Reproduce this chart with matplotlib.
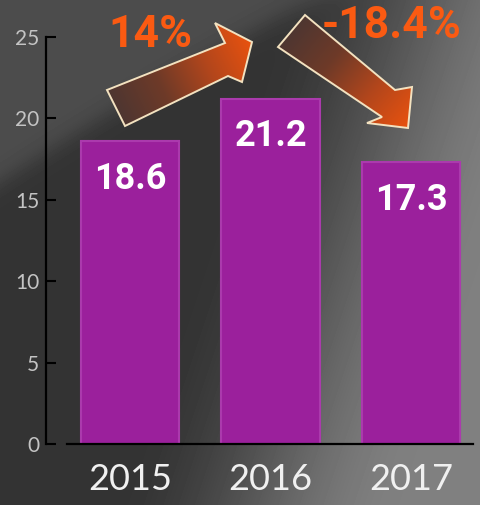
import numpy as np
import matplotlib.pyplot as plt
from matplotlib.patches import Polygon
from matplotlib.colors import LinearSegmentedColormap

years = ["2015", "2016", "2017"]
values = [18.6, 21.2, 17.3]
changes = ["14%", "-18.4%"]
yticks = [0, 5, 10, 15, 20, 25]

W, H = 481, 505
fig = plt.figure(figsize=(W / 100, H / 100), dpi=100)

# background: dark grey with a lighter sweep on the right and top-left
bg = fig.add_axes([0, 0, 1, 1])
bg.set_axis_off()
u, v = np.meshgrid(np.linspace(0, 1, W), np.linspace(0, 1, H))
vb = 0.36 - 0.62 * u + 0.1 * u ** 2
top = 1 / (1 + np.exp((v - vb) / 0.015))
s = np.clip((u + 0.35 * v - 0.58) / 0.6, 0, 1)
s = s * s * (3 - 2 * s)
val = 0.20 + 0.10 * top + 0.30 * s
bg.imshow(val, cmap="gray", vmin=0, vmax=1, aspect="auto", origin="upper",
          extent=[0, 1, 0, 1])
bg.set_xlim(0, 1)
bg.set_ylim(0, 1)

# bar chart
ax = fig.add_axes([46 / W, (H - 444) / H, (473 - 46) / W, 407 / H])
ax.patch.set_alpha(0)
x = np.arange(len(years))
ax.bar(x, values, width=0.7, color="#9b209c", edgecolor="#ab3aad",
       linewidth=1.5, zorder=2)
ax.set_xlim(-0.598, 2.44)
ax.set_ylim(0, 25)
ax.set_yticks(yticks)
ax.set_xticks(x)
ax.set_xticklabels(years)
for side in ["top", "right"]:
    ax.spines[side].set_visible(False)
ax.spines["left"].set_color("black")
ax.spines["left"].set_linewidth(1.6)
ax.spines["bottom"].set_color("black")
ax.spines["bottom"].set_linewidth(1.6)
ax.spines["bottom"].set_bounds(-0.448, 2.44)
ax.tick_params(axis="y", direction="in", length=7, width=1.5, color="black",
               pad=5, labelsize=15)
ax.tick_params(axis="x", length=0, pad=14, labelsize=26)
for lab in ax.get_xticklabels():
    lab.set_fontfamily("Lato")
    lab.set_color("#f0f0f0")
for lab in ax.get_yticklabels():
    lab.set_fontfamily("Lato")
    lab.set_color("#c4c4c4")

for xi, val_ in zip(x, values):
    ax.annotate(f"{val_}", (xi, val_), xytext=(0, -27), textcoords="offset points",
                ha="center", va="center", color="white", fontsize=26,
                fontweight="bold", family="Roboto", zorder=3)

# overlay in pixel coordinates for the change arrows
ov = fig.add_axes([0, 0, 1, 1])
ov.set_axis_off()

arrow_up = [(107, 90), (225, 43), (215, 23), (252, 42), (242, 82), (228, 76), (125, 126)]
arrow_down = [(305, 15), (395, 90), (412, 87), (408, 128), (367, 123), (382, 117), (278, 47)]
arrow_dirs = [((116, 108), (252, 42)), ((291, 31), (408, 128))]

cmap = LinearSegmentedColormap.from_list(
    "arr", ["#4e3631", "#6e3a28", "#b2461c", "#e8520f"])

for pts, (tail, tip) in zip([arrow_up, arrow_down], arrow_dirs):
    pts = np.array(pts, float)
    poly = Polygon(pts, closed=True, facecolor="none", edgecolor="#f3e2c0",
                   linewidth=1.4, zorder=5)
    ov.add_patch(poly)
    x0, y0 = pts.min(axis=0) - 2
    x1, y1 = pts.max(axis=0) + 2
    gx, gy = np.meshgrid(np.linspace(x0, x1, 200), np.linspace(y0, y1, 200))
    d = np.array(tip) - np.array(tail)
    t = ((gx - tail[0]) * d[0] + (gy - tail[1]) * d[1]) / (d @ d)
    im = ov.imshow(np.clip(t, 0, 1), cmap=cmap, vmin=0, vmax=1,
                   extent=[x0, x1, y1, y0], origin="upper", zorder=4,
                   aspect="auto")
    im.set_clip_path(poly)

ov.text(150, 35, changes[0], ha="center", va="center", color="#fa5a12",
        fontsize=32, fontweight="bold", family="Roboto", zorder=6)
ov.text(392, 26, changes[1], ha="center", va="center", color="#fa5a12",
        fontsize=32, fontweight="bold", family="Roboto", zorder=6)
ov.set_xlim(0, W)
ov.set_ylim(H, 0)

fig.savefig("out.png", dpi=100)
